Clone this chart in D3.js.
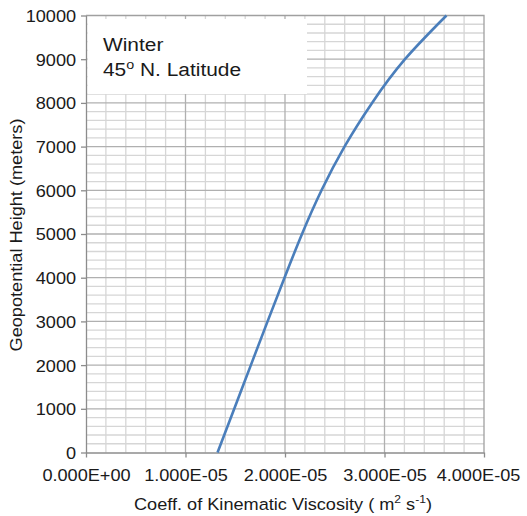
<!DOCTYPE html>
<html>
<head>
<meta charset="utf-8">
<script src="https://cdn.jsdelivr.net/npm/d3@7"></script>
<style>
  html, body { margin: 0; padding: 0; background: #fff; }
  svg { display: block; font-family: "Liberation Sans", Arial, Helvetica, sans-serif; }
</style>
</head>
<body>
<script>
// Geopotential height (m) and kinematic viscosity (m^2 s^-1), winter, 45° N
const heights = [0, 1000, 2000, 3000, 4000, 5000, 6000, 7000, 8000, 9000, 10000];
const viscosity = [1.322e-5, 1.49e-5, 1.657e-5, 1.825e-5, 1.995e-5, 2.171e-5, 2.367e-5, 2.598e-5, 2.875e-5, 3.206e-5, 3.623e-5];

const xTicks = [0, 1e-5, 2e-5, 3e-5, 4e-5];
const xTickLabels = ["0.000E+00", "1.000E-05", "2.000E-05", "3.000E-05", "4.000E-05"];
const yTicks = [0, 1000, 2000, 3000, 4000, 5000, 6000, 7000, 8000, 9000, 10000];

const W = 527, H = 516;
const plotL = 86, plotR = 484, plotT = 15.5, plotB = 452.5;
const stretch = 1.1; // horizontal text stretch

const svg = d3.select("body").append("svg").attr("width", W).attr("height", H);

const x = d3.scaleLinear().domain([0, 4e-5]).range([plotL, plotR]);
const y = d3.scaleLinear().domain([0, 10000]).range([plotB, plotT]);

// minor grid
const xMinor = d3.range(0, 4e-5 + 1e-12, 2e-6).filter((d, i) => i % 5 !== 0);
const yMinor = d3.range(0, 10001, 200).filter((d, i) => i % 5 !== 0);

const grid = svg.append("g");
grid.selectAll("line.xmin").data(xMinor).join("line")
  .attr("x1", d => x(d)).attr("x2", d => x(d)).attr("y1", plotT).attr("y2", plotB)
  .attr("stroke", "#d6d6d6").attr("stroke-width", 1.3);
grid.selectAll("line.ymin").data(yMinor).join("line")
  .attr("x1", plotL).attr("x2", plotR).attr("y1", d => y(d)).attr("y2", d => y(d))
  .attr("stroke", "#d6d6d6").attr("stroke-width", 1.3);
// major grid
grid.selectAll("line.xmaj").data(xTicks.slice(1, -1)).join("line")
  .attr("x1", d => x(d)).attr("x2", d => x(d)).attr("y1", plotT).attr("y2", plotB)
  .attr("stroke", "#b0b0b0").attr("stroke-width", 1.3);
grid.selectAll("line.ymaj").data(yTicks.slice(1, -1)).join("line")
  .attr("x1", plotL).attr("x2", plotR).attr("y1", d => y(d)).attr("y2", d => y(d))
  .attr("stroke", "#b0b0b0").attr("stroke-width", 1.3);

// legend box
svg.append("rect").attr("x", plotL + 1.5).attr("y", 19).attr("width", 307 - plotL - 1.5).attr("height", 75)
  .attr("fill", "#fff");

const legend = svg.append("text").attr("font-size", 19).attr("fill", "#1a1a1a")
  .attr("transform", `translate(103,0) scale(${stretch},1)`);
legend.append("tspan").attr("x", 0).attr("y", 51).text("Winter");
const l2 = legend.append("tspan").attr("x", 0).attr("y", 76);
l2.append("tspan").text("45");
l2.append("tspan").attr("font-size", 13).attr("dy", -7).text("o");
l2.append("tspan").attr("dy", 7).text(" N. Latitude");

// top and right border
svg.append("path")
  .attr("d", `M${plotL},${plotT}H${plotR}V${plotB}`)
  .attr("fill", "none").attr("stroke", "#a0a0a0").attr("stroke-width", 1.3);

// axes
const xAxis = svg.append("g").attr("transform", `translate(0,${plotB})`)
  .call(d3.axisBottom(x).tickValues(xTicks).tickFormat((d, i) => xTickLabels[i]).tickSize(5).tickSizeOuter(0));
const yAxis = svg.append("g").attr("transform", `translate(${plotL},0)`)
  .call(d3.axisLeft(y).tickValues(yTicks).tickFormat(d3.format("d")).tickSize(5).tickSizeOuter(0));

[xAxis, yAxis].forEach(g => {
  g.select(".domain").attr("stroke", "#8c8c8c").attr("stroke-width", 1.3);
  g.selectAll(".tick line").attr("stroke", "#8c8c8c").attr("stroke-width", 1.3);
  g.selectAll(".tick text").attr("fill", "#1a1a1a").attr("font-size", 16.5)
    .attr("font-family", "Liberation Sans, Arial, Helvetica, sans-serif");
});
xAxis.selectAll(".tick text").attr("y", 17)
  .attr("transform", (d, i) => `translate(${i === xTicks.length - 1 ? -6 : 0},0) scale(${stretch},1)`);
yAxis.selectAll(".tick text").attr("x", -9).attr("dy", "0.36em")
  .attr("transform", `scale(${stretch},1)`);

// axis titles
const xt = svg.append("text").attr("font-size", 16.5).attr("fill", "#1a1a1a")
  .attr("text-anchor", "middle")
  .attr("transform", `translate(283,510) scale(${stretch},1)`);
xt.append("tspan").text("Coeff. of Kinematic Viscosity ( m");
xt.append("tspan").attr("font-size", 11).attr("dy", -7).text("2");
xt.append("tspan").attr("dy", 7).text(" s");
xt.append("tspan").attr("font-size", 11).attr("dy", -7).text("-1");
xt.append("tspan").attr("dy", 7).text(")");

svg.append("text").attr("font-size", 16.5).attr("fill", "#1a1a1a")
  .attr("text-anchor", "middle")
  .attr("transform", `translate(22,235) rotate(-90) scale(${stretch},1)`)
  .text("Geopotential Height (meters)");

// profile curve
const pts = heights.map((h, i) => [viscosity[i], h]);
svg.append("path")
  .datum(pts)
  .attr("fill", "none").attr("stroke", "#4a7ebb").attr("stroke-width", 2.6)
  .attr("d", d3.line().x(d => x(d[0])).y(d => y(d[1])).curve(d3.curveNatural));
</script>
</body>
</html>
